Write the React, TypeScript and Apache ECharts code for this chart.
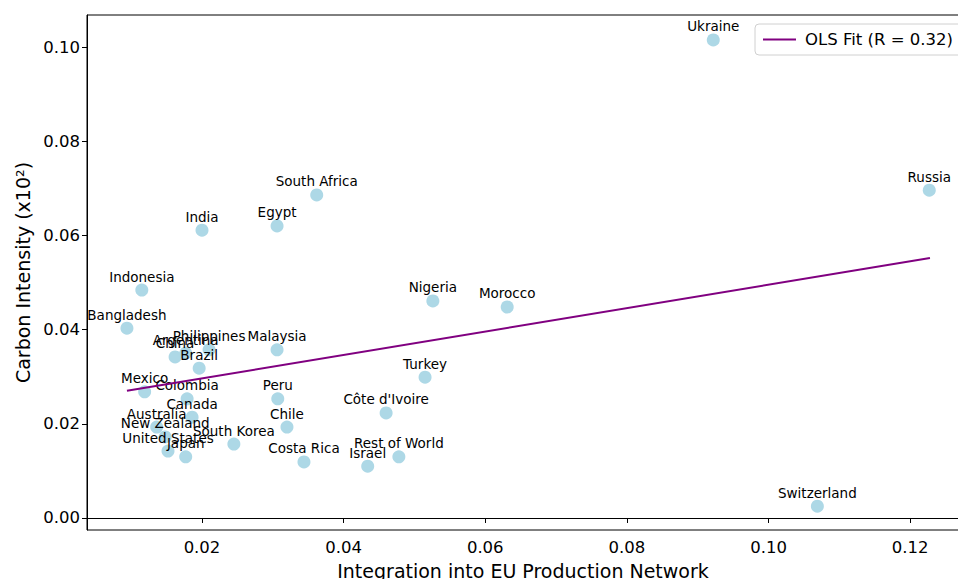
import React, { useEffect, useRef } from "react";
import * as echarts from "echarts";

const countries = [
  "Ukraine", "Russia", "Switzerland", "South Africa", "Egypt", "India", "Indonesia",
  "Bangladesh", "Nigeria", "Morocco", "Malaysia", "Philippines", "Argentina", "China",
  "Brazil", "Mexico", "Colombia", "Peru", "Canada", "Australia", "New Zealand",
  "United States", "Japan", "South Korea", "Chile", "Costa Rica", "Turkey",
  "Côte d'Ivoire", "Rest of World", "Israel",
];
const integration = [
  0.0922, 0.1227, 0.1069, 0.0362, 0.0306, 0.0200, 0.0115,
  0.0094, 0.0526, 0.0631, 0.0306, 0.0210, 0.0177, 0.0162,
  0.0196, 0.0119, 0.0179, 0.0307, 0.0186, 0.0136, 0.0148,
  0.0152, 0.0177, 0.0245, 0.0320, 0.0344, 0.0515,
  0.0460, 0.0478, 0.0434,
];
const carbonIntensity = [
  0.1015, 0.0696, 0.0025, 0.0686, 0.0620, 0.0611, 0.0484,
  0.0403, 0.0461, 0.0448, 0.0357, 0.0357, 0.0350, 0.0342,
  0.0318, 0.0268, 0.0253, 0.0253, 0.0214, 0.0193, 0.0172,
  0.0142, 0.0130, 0.0157, 0.0193, 0.0119, 0.0299,
  0.0223, 0.0130, 0.0110,
];
const fitX = [0.0094, 0.1228];
const fitY = [0.0270, 0.0552];
const fitName = "OLS Fit (R = 0.32)";

const FONT = "DejaVu Sans";

export default function App() {
  const ref = useRef<HTMLDivElement>(null);
  useEffect(() => {
    if (!ref.current) return;
    const chart = echarts.init(ref.current, null, { renderer: "svg" });
    const scatterData = countries.map((c, i) => ({
      name: c,
      value: [integration[i], carbonIntensity[i]],
    }));
    const lineData = fitX.map((x, i) => [x, fitY[i]]);
    chart.setOption({
      animation: false,
      textStyle: { fontFamily: FONT },
      grid: {
        left: 87, top: 15, right: -1, bottom: 49,
        outerBoundsMode: "none",
        containLabel: false,
        show: true, borderColor: "#000", borderWidth: 1,
      },
      legend: {
        left: 755,
        top: 24,
        data: [{ name: fitName, icon: "rect" }],
        itemWidth: 33,
        itemHeight: 2,
        itemGap: 10,
        padding: [7, 10, 7, 8],
        borderColor: "#d0d0d0",
        borderWidth: 1,
        borderRadius: 4,
        backgroundColor: "#fff",
        textStyle: { fontFamily: FONT, fontSize: 16.5, color: "#000", padding: [0, 0, 0, 4] },
      },
      xAxis: {
        type: "value",
        min: 0.00376,
        max: 0.1269,
        splitNumber: 6,
        splitLine: { show: false },
        axisLine: { show: true, lineStyle: { color: "#000" } },
        axisTick: { show: true, length: 5, lineStyle: { color: "#000" } },
        axisLabel: {
          showMinLabel: false,
          showMaxLabel: false,
          fontFamily: FONT,
          fontSize: 16.5,
          color: "#000",
          margin: 9,
          formatter: (v: number) => v.toFixed(2),
        },
        name: "Integration into EU Production Network",
        nameLocation: "middle",
        nameGap: 31,
        nameTextStyle: { fontFamily: FONT, fontSize: 19, color: "#000" },
      },
      yAxis: {
        type: "value",
        min: -0.00255,
        max: 0.1068,
        splitNumber: 6,
        splitLine: { show: false },
        axisLine: { show: true, lineStyle: { color: "#000" } },
        axisTick: { show: true, length: 5, lineStyle: { color: "#000" } },
        axisLabel: {
          showMinLabel: false,
          showMaxLabel: false,
          fontFamily: FONT,
          fontSize: 16.5,
          color: "#000",
          margin: 7,
          formatter: (v: number) => v.toFixed(2),
        },
        name: "Carbon Intensity (x10²)",
        nameLocation: "middle",
        nameGap: 55,
        nameTextStyle: { fontFamily: FONT, fontSize: 19, color: "#000" },
      },
      series: [
        {
          type: "scatter",
          name: "countries",
          data: scatterData,
          symbolSize: 13,
          itemStyle: { color: "#add8e6", opacity: 1 },
          label: {
            show: true,
            position: "top",
            distance: 0,
            formatter: "{b}",
            fontFamily: FONT,
            fontSize: 13.5,
            color: "#000",
          },
          z: 2,
        },
        {
          type: "line",
          name: fitName,
          data: lineData,
          showSymbol: false,
          symbol: "none",
          lineStyle: { color: "#800080", width: 2 },
          itemStyle: { color: "#800080" },
          z: 3,
        },
      ],
    });
    return () => chart.dispose();
  }, []);
  return (
    <div
      ref={ref}
      style={{ position: "absolute", left: 0, top: 0, width: 958, height: 579 }}
    />
  );
}
